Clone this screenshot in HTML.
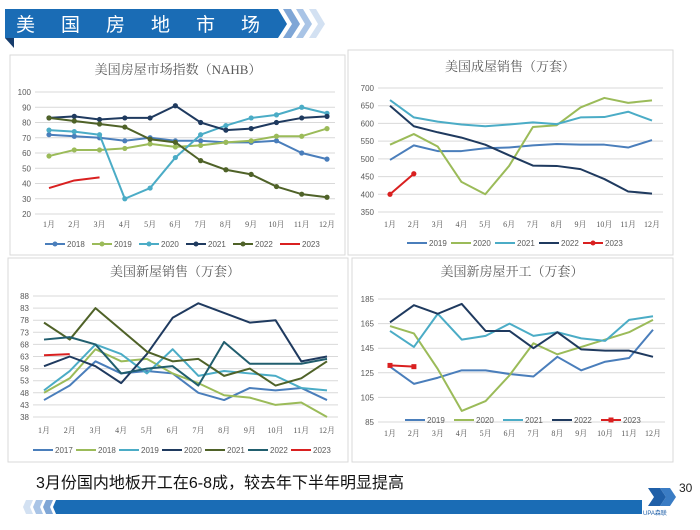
<!DOCTYPE html>
<html><head><meta charset="utf-8">
<style>
body{margin:0;background:#fff;width:700px;height:525px;overflow:hidden;font-family:"Liberation Sans","Noto Sans CJK SC",sans-serif;}
svg text{font-family:"Liberation Sans","Noto Sans CJK SC",sans-serif;}
svg text.serif{font-family:"Liberation Serif","Noto Serif CJK SC",serif;}
</style></head>
<body>
<svg id="s" width="700" height="525" viewBox="0 0 700 525" xmlns="http://www.w3.org/2000/svg">
<g>
<polygon points="5,9 278,9 287,24 278,38 5,38" fill="#1a6cb5"/>
<polygon points="5,38 14,38 14,48" fill="#163c6b"/>
<polygon points="283,9 291,9 300,24 291,38 283,38 292,24" fill="#7fa6d6"/>
<polygon points="296,9 303,9 312,24 303,38 296,38 305,24" fill="#a9c4e6"/>
<polygon points="309,9 316,9 325,24 316,38 309,38 318,24" fill="#d3e1f2"/>
<text x="16" y="31" fill="#fff" font-size="19" letter-spacing="26">美国房地市场</text>
</g>
<rect x="10" y="55" width="335" height="200" fill="none" stroke="#d9d9d9"/>
<rect x="348" y="50" width="325" height="205" fill="none" stroke="#d9d9d9"/>
<rect x="8" y="258" width="340" height="204" fill="none" stroke="#d9d9d9"/>
<rect x="352" y="258" width="321" height="204" fill="none" stroke="#d9d9d9"/>
<g id="charts"></g>
<text x="36" y="488" font-size="16" fill="#111">3月份国内地板开工在6-8成，较去年下半年明显提高</text>
<g>
<polygon points="26,500 33,500 30,507 33,514 26,514 23,507" fill="#d3e1f2"/>
<polygon points="36,500 43,500 40,507 43,514 36,514 33,507" fill="#a9c4e6"/>
<polygon points="46,500 53,500 50,507 53,514 46,514 43,507" fill="#7fa6d6"/>
<polygon points="56,500 642,500 642,514 56,514 53,507" fill="#1a6cb5"/>
</g>
<g>
<polygon points="648,488 660,488 666,497 660,506 648,506 654,497" fill="#1f5fa8"/>
<polygon points="660,488 670,488 676,497 670,506 660,506 666,497" fill="#3a7cc4"/>
<text x="643" y="515" font-size="6" fill="#1f5fa8">UPA森联</text>
</g>
<text x="679" y="492" font-size="12" fill="#222">30</text>
</svg>
<script>
const months=["1月","2月","3月","4月","5月","6月","7月","8月","9月","10月","11月","12月"];
// Chart 1 NAHB
const c1Ticks=[20,30,40,50,60,70,80,90,100];
const c1Years=["2018","2019","2020","2021","2022","2023"];
const c1v2018=[72,71,70,68,70,68,68,67,67,68,60,56];
const c1v2019=[58,62,62,63,66,64,65,67,68,71,71,76];
const c1v2020=[75,74,72,30,37,57,72,78,83,85,90,86];
const c1v2021=[83,84,82,83,83,91,80,75,76,80,83,84];
const c1v2022=[83,81,79,77,69,67,55,49,46,38,33,31];
const c1v2023=[37,42,44];
// Chart 2 existing home sales
const c2Ticks=[350,400,450,500,550,600,650,700];
const c2Years=["2019","2020","2021","2022","2023"];
const c2v2019=[497,538,522,522,530,532,538,542,540,540,532,553];
const c2v2020=[540,570,535,435,400,480,590,595,645,672,658,665];
const c2v2021=[666,617,605,597,592,597,603,598,617,618,633,608];
const c2v2022=[650,592,575,560,540,510,481,480,471,443,408,402];
const c2v2023=[400,458];
// Chart 3 new home sales
const c3Ticks=[38,43,48,53,58,63,68,73,78,83,88];
const c3Years=["2017","2018","2019","2020","2021","2022","2023"];
const c3v2017=[45,51,61,56,57,56,48,45,50,49,50,45];
const c3v2018=[48,54,66,61,62,56,52,47,46,43,44,38];
const c3v2019=[49,57,68,64,56,66,55,57,56,55,50,49];
const c3v2020=[59,63,59,52,64,79,85,81,77,78,61,63];
const c3v2021=[77,70,83,74,65,61,62,55,58,51,54,61];
const c3v2022=[70,71,68,56,58,59,51,69,60,60,60,62];
const c3v2023=[63.5,64];
// Chart 4 housing starts
const c4Ticks=[85,105,125,145,165,185];
const c4Years=["2019","2020","2021","2022","2023"];
const c4v2019=[130,116,121,127,127,124,122,138,127,134,137,160];
const c4v2020=[163,157,128,94,102,123,149,140,146,152,158,168];
const c4v2021=[159,146,173,152,155,165,155,158,153,151,168,171];
const c4v2022=[166,180,173,181,159,159,145,158,144,143,143,138];
const c4v2023=[131,130];

const NS="http://www.w3.org/2000/svg";
const root=document.getElementById('charts');
function mk(tag,attrs,parent){const e=document.createElementNS(NS,tag);for(const k in attrs)e.setAttribute(k,attrs[k]);(parent||root).appendChild(e);return e;}

function chart(cfg){
  const g=mk('g',{});
  
  
  const lo=cfg.ticks[0],hi=cfg.ticks[cfg.ticks.length-1];
  const y=v=>cfg.yb-(v-lo)/(hi-lo)*(cfg.yb-cfg.yt);
  const x=i=>cfg.x1+i*(cfg.x12-cfg.x1)/11;
  const t=mk('text',{x:cfg.tx,y:cfg.ty,'font-size':13,fill:'#595959','text-anchor':'middle','class':'serif'},g);
  t.textContent=cfg.title;
  
  
  cfg.ticks.forEach(v=>{
    const l=mk('line',{x1:cfg.gl,x2:cfg.gr,y1:y(v),y2:y(v),stroke:'#d9d9d9','stroke-width':1},g);
    
    
    const tt=mk('text',{x:cfg.gl-4,y:y(v)+3,'font-size':8,fill:'#595959','text-anchor':'end'},g);
    tt.textContent=v;
    
    
  });
  months.forEach((m,i)=>{
    const tt=mk('text',{x:x(i),y:cfg.xly,'font-size':8,fill:'#595959','text-anchor':'middle','class':'serif'},g);
    tt.textContent=m;
    
    
  });
  cfg.series.forEach((s,si)=>{
    const pts=s.v.map((v,i)=>x(i)+','+y(v)).join(' ');
    const p=mk('polyline',{points:pts,fill:'none',stroke:s.c,'stroke-width':s.w||2,'stroke-linejoin':'round'},g);
    
    
    if(s.m){s.v.forEach((v,i)=>{
      let mm;
      if(s.m==='sq'){mm=mk('rect',{x:x(i)-2.5,y:y(v)-2.5,width:5,height:5,fill:s.c},g);}
      else{mm=mk('circle',{cx:x(i),cy:y(v),r:2.6,fill:s.c},g);}
      
      
    });}
    const lx=cfg.lx+si*cfg.ls;
    const ll=mk('line',{x1:lx,x2:lx+20,y1:cfg.ly,y2:cfg.ly,stroke:s.c,'stroke-width':2},g);
    
    
    if(s.m){const lm=s.m==='sq'?mk('rect',{x:lx+7.5,y:cfg.ly-2.5,width:5,height:5,fill:s.c},g):mk('circle',{cx:lx+10,cy:cfg.ly,r:2.5,fill:s.c},g);
      
      }
    const lt=mk('text',{x:lx+22,y:cfg.ly+3,'font-size':8,fill:'#595959'},g);
    lt.textContent=s.n;
    
    
  });
}
const BL='#4a7ebb',GR='#9bbb59',TE='#4bacc6',NV='#1f3a5f',OL='#4f6228',RD='#d92020',DT='#215e6e';
chart({name:'nahb-chart',title:'美国房屋市场指数（NAHB）',tx:178,ty:74,ticks:c1Ticks,yt:92,yb:214,gl:35,gr:335,x1:49,x12:327,xly:227,lx:45,ls:47,ly:244,
 series:[{n:c1Years[0],v:c1v2018,c:BL,m:1},{n:c1Years[1],v:c1v2019,c:GR,m:1},{n:c1Years[2],v:c1v2020,c:TE,m:1},{n:c1Years[3],v:c1v2021,c:NV,m:1},{n:c1Years[4],v:c1v2022,c:OL,m:1},{n:c1Years[5],v:c1v2023,c:RD}]});
chart({name:'existing-sales-chart',title:'美国成屋销售（万套）',tx:510,ty:71,ticks:c2Ticks,yt:88,yb:212,gl:378,gr:663,x1:390,x12:652,xly:227,lx:407,ls:44,ly:243,
 series:[{n:c2Years[0],v:c2v2019,c:BL},{n:c2Years[1],v:c2v2020,c:GR},{n:c2Years[2],v:c2v2021,c:TE},{n:c2Years[3],v:c2v2022,c:NV},{n:c2Years[4],v:c2v2023,c:RD,m:1}]});
chart({name:'new-sales-chart',title:'美国新屋销售（万套）',tx:175,ty:276,ticks:c3Ticks,yt:296,yb:417,gl:33,gr:338,x1:44,x12:327,xly:433,lx:33,ls:43,ly:450,
 series:[{n:c3Years[0],v:c3v2017,c:BL},{n:c3Years[1],v:c3v2018,c:GR},{n:c3Years[2],v:c3v2019,c:TE},{n:c3Years[3],v:c3v2020,c:NV},{n:c3Years[4],v:c3v2021,c:OL},{n:c3Years[5],v:c3v2022,c:DT},{n:c3Years[6],v:c3v2023,c:RD}]});
chart({name:'housing-starts-chart',title:'美国新房屋开工（万套）',tx:512,ty:276,ticks:c4Ticks,yt:299,yb:422,gl:378,gr:665,x1:390,x12:653,xly:436,lx:405,ls:49,ly:420,
 series:[{n:c4Years[0],v:c4v2019,c:BL},{n:c4Years[1],v:c4v2020,c:GR},{n:c4Years[2],v:c4v2021,c:TE},{n:c4Years[3],v:c4v2022,c:NV},{n:c4Years[4],v:c4v2023,c:RD,m:'sq'}]});
</script>
</body></html>
